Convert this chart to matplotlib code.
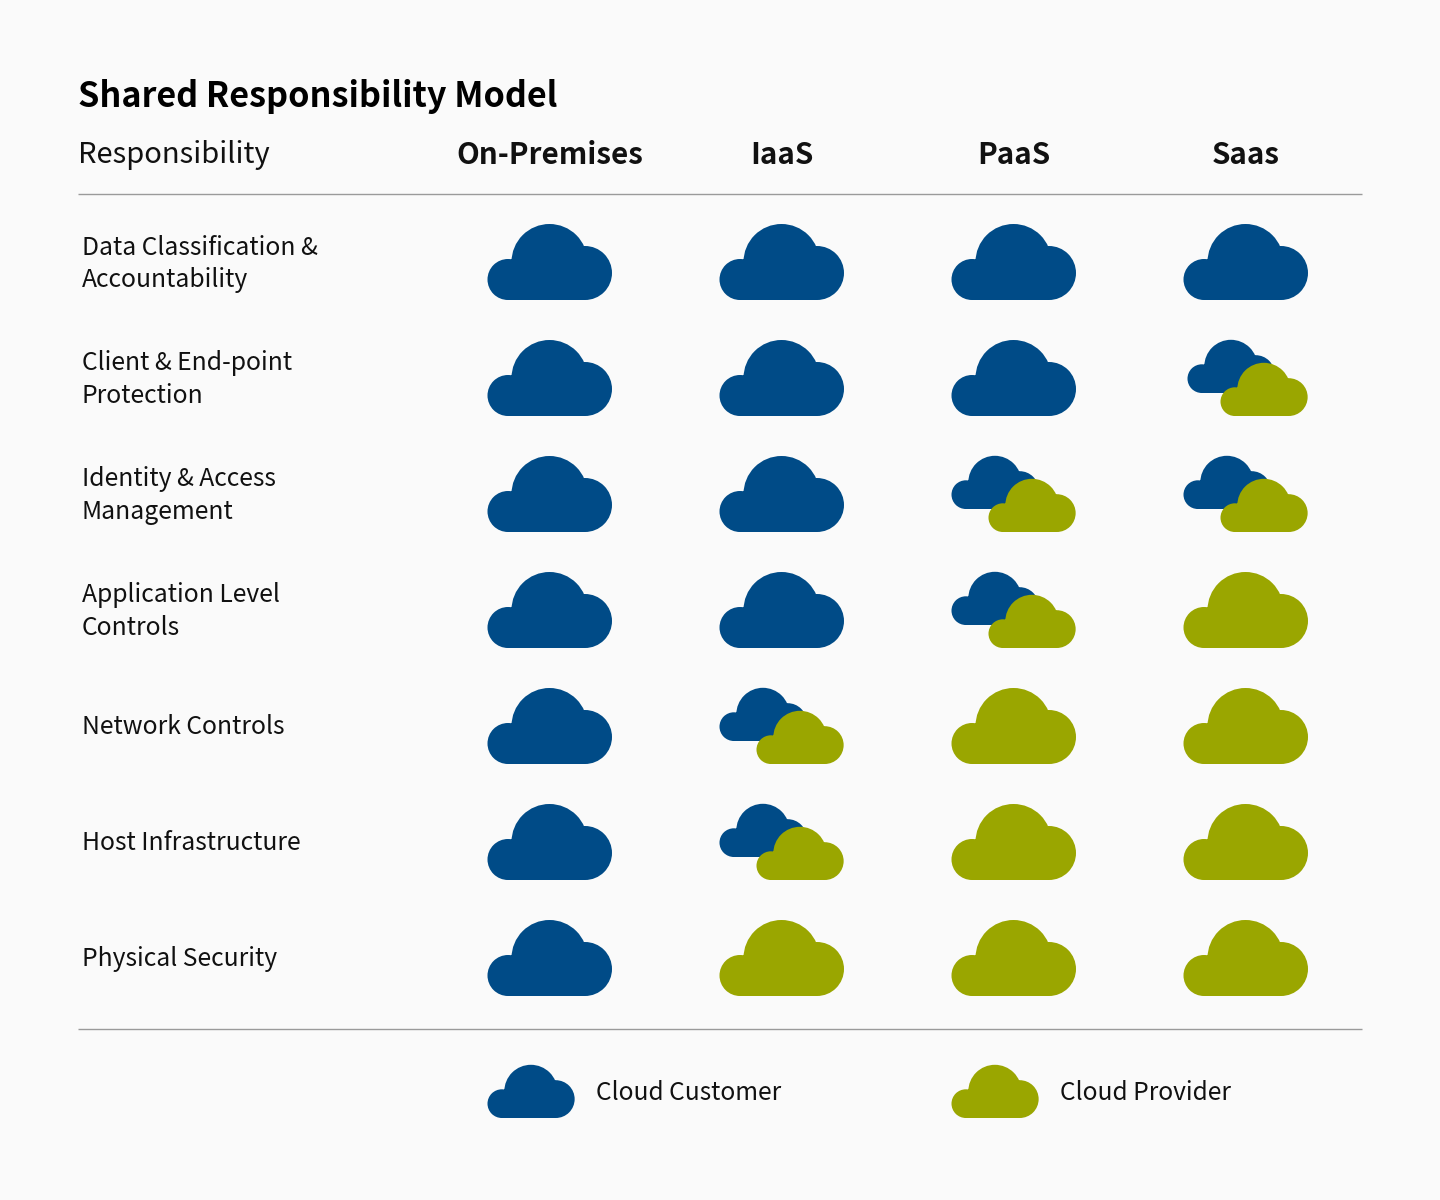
import matplotlib
matplotlib.use("Agg")
import matplotlib.pyplot as plt
from matplotlib.path import Path
from matplotlib.patches import PathPatch
from matplotlib.transforms import Affine2D

plt.rcParams['font.family'] = ['Noto Sans CJK SC', 'DejaVu Sans']

title = "Shared Responsibility Model"
row_header = "Responsibility"
columns = ["On-Premises", "IaaS", "PaaS", "Saas"]
rows = ["Data Classification &\nAccountability", "Client & End-point\nProtection",
        "Identity & Access\nManagement", "Application Level\nControls",
        "Network Controls", "Host Infrastructure", "Physical Security"]
# C = cloud customer, P = cloud provider, S = shared
responsibility = [
    ["C", "C", "C", "C"],
    ["C", "C", "C", "S"],
    ["C", "C", "S", "S"],
    ["C", "C", "S", "P"],
    ["C", "S", "P", "P"],
    ["C", "S", "P", "P"],
    ["C", "P", "P", "P"],
]
legend_labels = ["Cloud Customer", "Cloud Provider"]

BLUE = "#004B87"
GREEN = "#9AA600"
BG = "#FAFAFA"
INK = "#111111"

fig = plt.figure(figsize=(14.4, 12), dpi=100, facecolor=BG)
ax = fig.add_axes([0, 0, 1, 1])
ax.set_xlim(0, 1440)
ax.set_ylim(1200, 0)
ax.axis("off")


def unit_cloud():
    """Cloud 124.5 wide and 76 high, origin at its lower left corner, y downwards."""
    circles = [(62, -38, 38), (20.5, -20.5, 20.5), (97.5, -27, 27)]
    parts = [Path.unit_circle().transformed(Affine2D().scale(r).translate(x, y))
             for x, y, r in circles]
    parts.append(Path.unit_rectangle().transformed(
        Affine2D().scale(77, 38).translate(20.5, -38)))
    return Path.make_compound_path(*parts)


CLOUD = unit_cloud()


def cloud(left, bottom, color, scale=1.0, z=2):
    tr = Affine2D().scale(scale).translate(left, bottom) + ax.transData
    ax.add_patch(PathPatch(CLOUD, transform=tr, facecolor=color, edgecolor="none", zorder=z))


col_left = 487.5
col_step = 232
row_bottom = 300
row_step = 116
SMALL = 0.7

ax.text(78, 96.5, title, fontsize=24.6, fontweight="bold", color="black", va="center", ha="left")
ax.text(78, 155.5, row_header, fontsize=21, color=INK, va="center", ha="left")
for j, c in enumerate(columns):
    ax.text(col_left + 62 + j * col_step, 155, c, fontsize=21.3, fontweight="bold",
            color=INK, va="center", ha="center")

for y in (193.5, 1028.5):
    ax.plot([78, 1362], [y, y], color="#9A9A9A", lw=1.0, solid_capstyle="butt")

for i, label in enumerate(rows):
    bottom = row_bottom + i * row_step
    ax.text(82, bottom - 36 - (0.5 if i else 0), label, fontsize=17.8, color=INK, va="center", ha="left",
            linespacing=1.32)
    for j, kind in enumerate(responsibility[i]):
        left = col_left + j * col_step
        if kind == "S":
            shift = 4 if i == 1 else 0
            cloud(left + shift, bottom - 23, BLUE, SMALL, z=2)
            cloud(left + 37, bottom, GREEN, SMALL, z=3)
        else:
            cloud(left, bottom, BLUE if kind == "C" else GREEN)

for k, (label, color) in enumerate(zip(legend_labels, (BLUE, GREEN))):
    left = col_left + k * 2 * col_step
    cloud(left, 1118, color, SMALL)
    ax.text(left + 108.5, 1093, label, fontsize=17.7, color=INK, va="center", ha="left")

fig.savefig("out.png", dpi=100, facecolor=BG)
